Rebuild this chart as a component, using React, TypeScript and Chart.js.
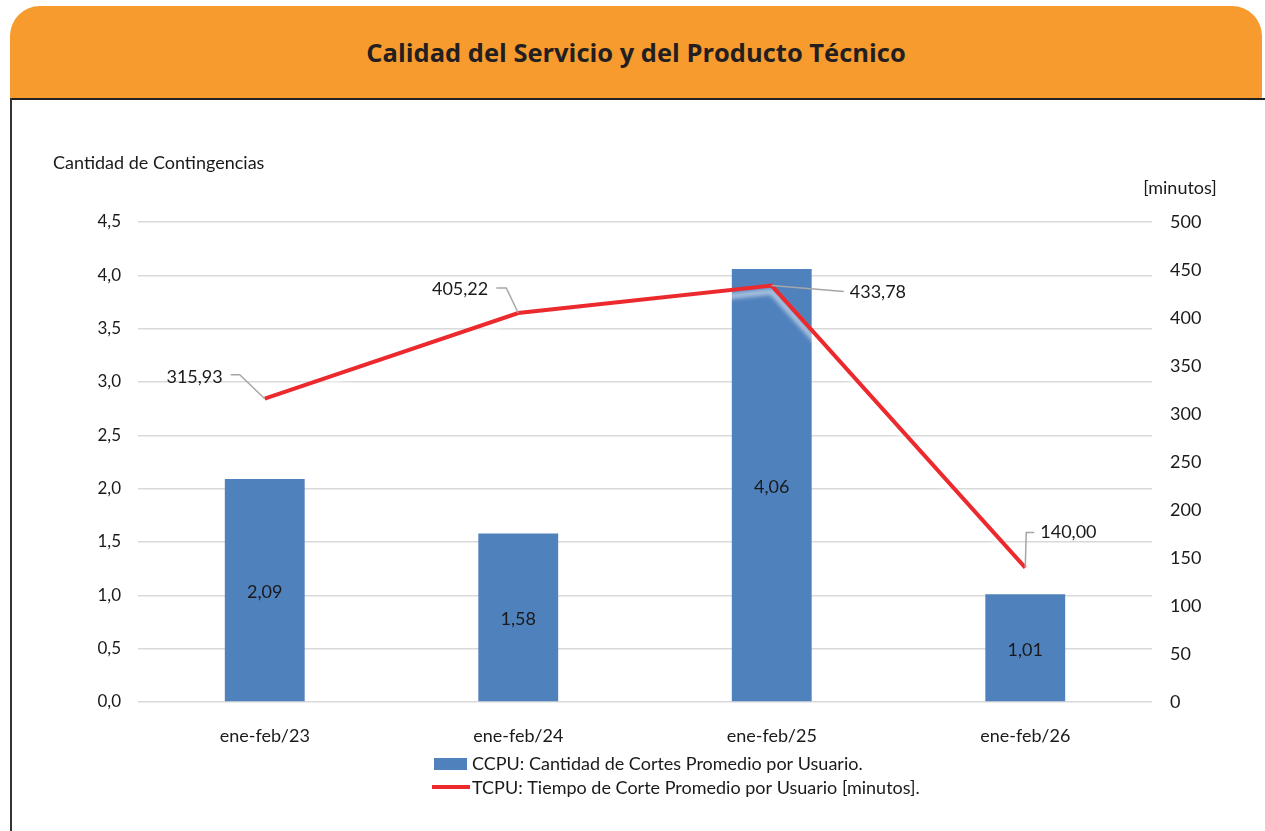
import React, { useEffect, useRef } from 'react';
import { Chart, registerables } from 'chart.js';

Chart.register(...registerables);

const chartTitle = 'Calidad del Servicio y del Producto Técnico';
const leftAxisTitle = 'Cantidad de Contingencias';
const rightAxisTitle = '[minutos]';
const categories = ['ene-feb/23', 'ene-feb/24', 'ene-feb/25', 'ene-feb/26'];
const ccpuValues = [2.09, 1.58, 4.06, 1.01];
const tcpuValues = [315.93, 405.22, 433.78, 140.0];
const ccpuLabel = 'CCPU: Cantidad de Cortes Promedio por Usuario.';
const tcpuLabel = 'TCPU: Tiempo de Corte Promedio por Usuario [minutos].';

const FONT = 'Lato, "Open Sans", sans-serif';
const TEXT = '#1a1a1a';
const BAR_COLOR = '#4F81BD';
const LINE_COLOR = '#EC2A2E';
const LABEL_SIZE = 18;
const TICK_SIZE = 17;

const fmt = (v: number, d: number) => v.toFixed(d).replace('.', ',');

// leader-line offsets (px) for the line data labels
const lineLabelLayout = [
  { path: [[-25, -24], [-34, -24]], tx: -42, ty: -22, align: 'right' },
  { path: [[-12, -25], [-22, -25]], tx: -30, ty: -24, align: 'right' },
  { path: [[72, 6]], tx: 78, ty: 7, align: 'left' },
  { path: [[1, -35], [9, -35]], tx: 15, ty: -35, align: 'left' },
];

const customPlugin = {
  id: 'customLabels',
  beforeDatasetDraw(chart: any, args: any) {
    if (args.index === 1) {
      const ctx = chart.ctx;
      ctx.save();
      ctx.shadowColor = 'rgba(255,255,255,0.8)';
      ctx.shadowBlur = 5;
      ctx.shadowOffsetY = 6;
    }
  },
  afterDatasetDraw(chart: any, args: any) {
    if (args.index === 1) chart.ctx.restore();
  },
  afterDraw(chart: any) {
    const ctx = chart.ctx;
    ctx.save();
    ctx.font = `${LABEL_SIZE}px ${FONT}`;
    ctx.fillStyle = TEXT;
    ctx.textBaseline = 'middle';

    // bar labels
    const barMeta = chart.getDatasetMeta(0);
    barMeta.data.forEach((el: any, i: number) => {
      ctx.textAlign = 'center';
      ctx.fillText(fmt(ccpuValues[i], 2), el.x, (el.y + el.base) / 2 + 2);
    });

    // line labels with leaders
    const lineMeta = chart.getDatasetMeta(1);
    lineMeta.data.forEach((el: any, i: number) => {
      const lay = lineLabelLayout[i];
      ctx.beginPath();
      ctx.moveTo(el.x, el.y);
      lay.path.forEach((p) => ctx.lineTo(el.x + p[0], el.y + p[1]));
      ctx.strokeStyle = '#a6a6a6';
      ctx.lineWidth = 1.5;
      ctx.stroke();
      ctx.textAlign = lay.align as CanvasTextAlign;
      ctx.fillText(fmt(tcpuValues[i], 2), el.x + lay.tx, el.y + lay.ty);
    });

    // axis titles
    ctx.textAlign = 'left';
    ctx.fillText(leftAxisTitle, 53, 63);
    ctx.textAlign = 'center';
    ctx.fillText(rightAxisTitle, 1180, 88);

    // legend
    ctx.textAlign = 'left';
    ctx.fillStyle = BAR_COLOR;
    ctx.fillRect(434, 658, 33, 12);
    ctx.fillStyle = LINE_COLOR;
    ctx.fillRect(432, 685, 38, 4);
    ctx.fillStyle = TEXT;
    ctx.fillText(chart.data.datasets[0].label, 472, 664);
    ctx.fillText(chart.data.datasets[1].label, 472, 688);
    ctx.restore();
  },
};

export default function App() {
  const ref = useRef<HTMLCanvasElement>(null);

  useEffect(() => {
    if (!ref.current) return;
    const chart = new Chart(ref.current, {
      type: 'bar',
      data: {
        labels: categories,
        datasets: [
          {
            type: 'bar',
            label: ccpuLabel,
            data: ccpuValues,
            backgroundColor: BAR_COLOR,
            yAxisID: 'y',
            barPercentage: 1,
            categoryPercentage: 0.315,
            order: 2,
          },
          {
            type: 'line',
            label: tcpuLabel,
            data: tcpuValues,
            borderColor: LINE_COLOR,
            backgroundColor: LINE_COLOR,
            borderWidth: 4,
            pointRadius: 0,
            tension: 0,
            yAxisID: 'y1',
            order: 1,
          } as any,
        ],
      },
      options: {
        animation: false,
        responsive: false,
        layout: { padding: { top: 122, left: 0, right: 0, bottom: 0 } },
        plugins: {
          legend: { display: false },
          tooltip: { enabled: false },
        },
        scales: {
          x: {
            grid: { display: false },
            border: { display: false },
            ticks: {
              color: TEXT,
              font: { family: FONT, size: LABEL_SIZE },
              padding: 15,
              maxRotation: 0,
            },
            afterFit: (s: any) => {
              s.height = 129;
            },
          },
          y: {
            position: 'left',
            min: 0,
            max: 4.5,
            grid: { color: '#d9d9d9', lineWidth: 1.5, drawTicks: false },
            border: { display: false },
            ticks: {
              stepSize: 0.5,
              color: TEXT,
              font: { family: FONT, size: TICK_SIZE },
              padding: 17,
              callback: (v: any) => fmt(Number(v), 1),
            },
            afterFit: (s: any) => {
              s.width = 138;
            },
          },
          y1: {
            position: 'right',
            min: 0,
            max: 500,
            grid: { display: false, drawTicks: false },
            border: { display: false },
            ticks: {
              stepSize: 50,
              color: TEXT,
              font: { family: FONT, size: LABEL_SIZE },
              padding: 18,
            },
            afterFit: (s: any) => {
              s.width = 113;
            },
          },
        },
      },
      plugins: [customPlugin],
    });
    return () => chart.destroy();
  }, []);

  return (
    <div style={{ position: 'absolute', left: 0, top: 0, width: 1265, height: 831, background: '#fff', overflow: 'hidden' }}>
      <div
        style={{
          position: 'absolute',
          left: 10,
          top: 6,
          width: 1252,
          height: 92,
          background: '#F79B2E',
          borderRadius: '30px 30px 0 0',
          display: 'flex',
          alignItems: 'center',
          justifyContent: 'center',
          fontFamily: '"Open Sans", sans-serif',
          fontWeight: 700,
          fontSize: 25.5,
          color: '#231F20',
        }}
      >
        {chartTitle}
      </div>
      <div style={{ position: 'absolute', left: 10, top: 98, width: 1255, height: 1.5, background: '#222' }} />
      <div style={{ position: 'absolute', left: 10, top: 98, width: 1.5, height: 740, background: '#333' }} />
      <canvas ref={ref} width={1265} height={731} style={{ position: 'absolute', left: 0, top: 100, display: 'block' }} />
    </div>
  );
}
